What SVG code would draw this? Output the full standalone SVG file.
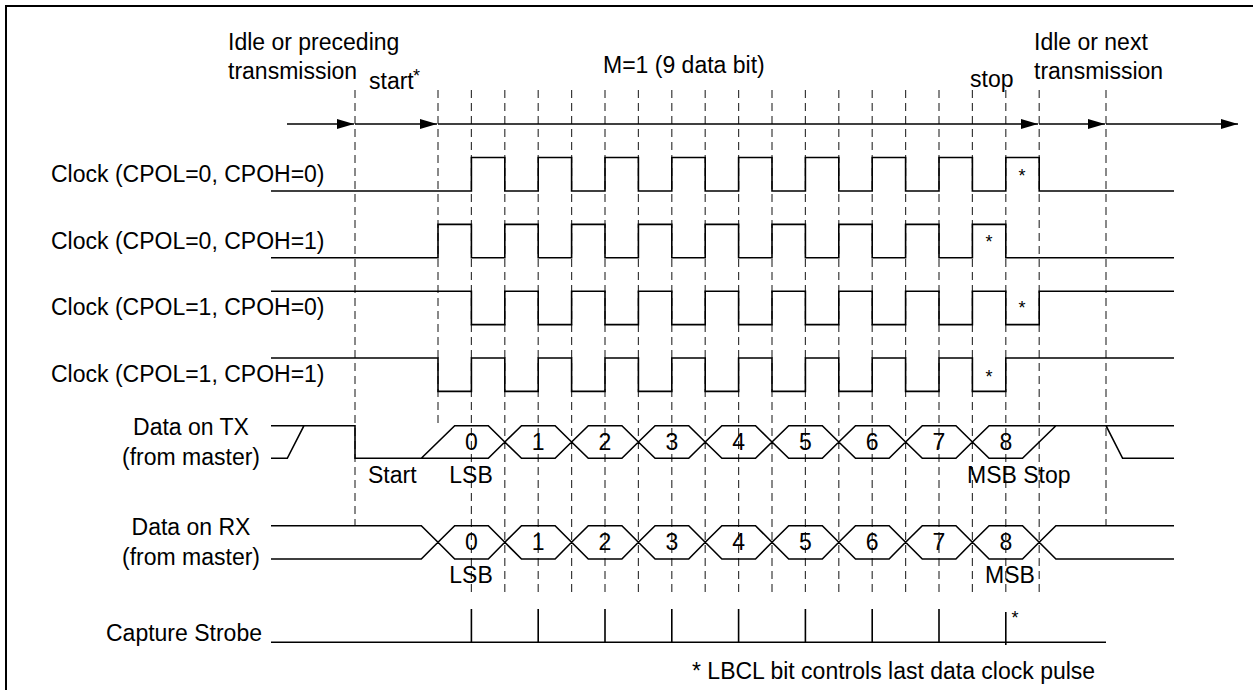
<svg xmlns="http://www.w3.org/2000/svg" width="1253" height="690" viewBox="0 0 1253 690">
<style>
text{font-family:"Liberation Sans",Arial,sans-serif;font-size:23px;fill:#000}
.sig{fill:none;stroke:#000;stroke-width:1.6;stroke-linejoin:miter}
.grid{fill:none;stroke:#3a3a3a;stroke-width:1.2;stroke-dasharray:8,5}
.arr{fill:none;stroke:#000;stroke-width:1.6}
.st{font-size:18px}
.mid{text-anchor:middle}
</style>
<defs>
<marker id="ah" markerUnits="userSpaceOnUse" markerWidth="18" markerHeight="11" refX="17" refY="5" orient="auto">
<path d="M0,0 L17,5 L0,10 z" fill="#000"/>
</marker>
</defs>
<rect width="1253" height="690" fill="#fff"/>
<path d="M6,690 V6 H1253" fill="none" stroke="#000" stroke-width="2"/>

<g id="grid">
<path class="grid" d="M355,90 V526 M438,90 V426 M1106,90 V526
M471.4,90 V593 M504.8,90 V593 M538.2,90 V593 M571.6,90 V593 M605,90 V593 M638.4,90 V593 M671.8,90 V593 M705.2,90 V593 M738.6,90 V593 M772,90 V593 M805.4,90 V593 M838.8,90 V593 M872.2,90 V593 M905.6,90 V593 M939,90 V593 M972.4,90 V593 M1005.8,90 V593 M1039.2,90 V593"/>
</g>

<g id="header">
<text x="228" y="50">Idle or preceding</text>
<text x="228" y="78.5">transmission</text>
<text x="369" y="89.3">start</text>
<text x="413" y="82" class="st">*</text>
<text x="603" y="72.7">M=1 (9 data bit)</text>
<text x="970" y="87.3">stop</text>
<text x="1034" y="50">Idle or next</text>
<text x="1034" y="78.5">transmission</text>
</g>

<g id="connectors">
<line class="arr" x1="287" y1="124" x2="354" y2="124" marker-end="url(#ah)"/>
<line class="arr" x1="355" y1="124" x2="437" y2="124" marker-end="url(#ah)"/>
<line class="arr" x1="438" y1="124" x2="1038" y2="124" marker-end="url(#ah)"/>
<line class="arr" x1="1039" y1="124" x2="1105" y2="124" marker-end="url(#ah)"/>
<line class="arr" x1="1106" y1="124" x2="1238" y2="124" marker-end="url(#ah)"/>
</g>

<g id="clock00">
<text x="51" y="181.7">Clock (CPOL=0, CPOH=0)</text>
<path class="sig" d="M271,191 H471.4 V157.5 H504.8 V191 H538.2 V157.5 H571.6 V191 H605 V157.5 H638.4 V191 H671.8 V157.5 H705.2 V191 H738.6 V157.5 H772 V191 H805.4 V157.5 H838.8 V191 H872.2 V157.5 H905.6 V191 H939 V157.5 H972.4 V191 H1005.8 V157.5 H1039.2 V191 H1174"/>
<text x="1022" y="182" class="st mid">*</text>
</g>

<g id="clock01">
<text x="51" y="248.5">Clock (CPOL=0, CPOH=1)</text>
<path class="sig" d="M271,257.8 H438 V224.4 H471.4 V257.8 H504.8 V224.4 H538.2 V257.8 H571.6 V224.4 H605 V257.8 H638.4 V224.4 H671.8 V257.8 H705.2 V224.4 H738.6 V257.8 H772 V224.4 H805.4 V257.8 H838.8 V224.4 H872.2 V257.8 H905.6 V224.4 H939 V257.8 H972.4 V224.4 H1005.8 V257.8 H1174"/>
<text x="989" y="248" class="st mid">*</text>
</g>

<g id="clock10">
<text x="51" y="315.3">Clock (CPOL=1, CPOH=0)</text>
<path class="sig" d="M271,291.2 H471.4 V324.6 H504.8 V291.2 H538.2 V324.6 H571.6 V291.2 H605 V324.6 H638.4 V291.2 H671.8 V324.6 H705.2 V291.2 H738.6 V324.6 H772 V291.2 H805.4 V324.6 H838.8 V291.2 H872.2 V324.6 H905.6 V291.2 H939 V324.6 H972.4 V291.2 H1005.8 V324.6 H1039.2 V291.2 H1174"/>
<text x="1022" y="313.5" class="st mid">*</text>
</g>

<g id="clock11">
<text x="51" y="382.1">Clock (CPOL=1, CPOH=1)</text>
<path class="sig" d="M271,358 H438 V391.4 H471.4 V358 H504.8 V391.4 H538.2 V358 H571.6 V391.4 H605 V358 H638.4 V391.4 H671.8 V358 H705.2 V391.4 H738.6 V358 H772 V391.4 H805.4 V358 H838.8 V391.4 H872.2 V358 H905.6 V391.4 H939 V358 H972.4 V391.4 H1005.8 V358 H1174"/>
<text x="989" y="383" class="st mid">*</text>
</g>

<g id="tx">
<text x="191" y="435" class="mid">Data on TX</text>
<text x="191" y="465" class="mid">(from master)</text>
<path class="sig" d="M271,425.7 H355 V458.3 H488.3 L504.8,442
M271,458.3 H287.3 L304,425.7
M421.3,458.3 L454.7,425.7 H488.3 L504.8,442
M504.8,442 L521.5,425.7 H555.1 L571.6,442 M504.8,442 L521.5,458.3 H555.1 L571.6,442
M571.6,442 L588.3,425.7 H621.9 L638.4,442 M571.6,442 L588.3,458.3 H621.9 L638.4,442
M638.4,442 L655.1,425.7 H688.7 L705.2,442 M638.4,442 L655.1,458.3 H688.7 L705.2,442
M705.2,442 L721.9,425.7 H755.5 L772,442 M705.2,442 L721.9,458.3 H755.5 L772,442
M772,442 L788.7,425.7 H822.3 L838.8,442 M772,442 L788.7,458.3 H822.3 L838.8,442
M838.8,442 L855.5,425.7 H889.1 L905.6,442 M838.8,442 L855.5,458.3 H889.1 L905.6,442
M905.6,442 L922.3,425.7 H955.9 L972.4,442 M905.6,442 L922.3,458.3 H955.9 L972.4,442
M972.4,442 L989.1,425.7 H1174
M972.4,442 L989.1,458.3 H1022.5 L1055.9,425.7
M1106,425.7 L1122.6,458.3 H1174"/>
<g class="mid">
<text x="471.4" y="450">0</text><text x="538.2" y="450">1</text><text x="605" y="450">2</text>
<text x="671.8" y="450">3</text><text x="738.6" y="450">4</text><text x="805.4" y="450">5</text>
<text x="872.2" y="450">6</text><text x="939" y="450">7</text><text x="1005.8" y="450">8</text>
</g>
<text x="368" y="482.7">Start</text>
<text x="471" y="482.7" class="mid">LSB</text>
<text x="967" y="482.5">MSB Stop</text>
</g>

<g id="rx">
<text x="191" y="535" class="mid">Data on RX</text>
<text x="191" y="565" class="mid">(from master)</text>
<path class="sig" d="M271,525.7 H421.3 L438,542.3 M271,559 H421.3 L438,542.3
M438,542.3 L454.7,525.7 H488.3 L504.8,542.3 M438,542.3 L454.7,559 H488.3 L504.8,542.3
M504.8,542.3 L521.5,525.7 H555.1 L571.6,542.3 M504.8,542.3 L521.5,559 H555.1 L571.6,542.3
M571.6,542.3 L588.3,525.7 H621.9 L638.4,542.3 M571.6,542.3 L588.3,559 H621.9 L638.4,542.3
M638.4,542.3 L655.1,525.7 H688.7 L705.2,542.3 M638.4,542.3 L655.1,559 H688.7 L705.2,542.3
M705.2,542.3 L721.9,525.7 H755.5 L772,542.3 M705.2,542.3 L721.9,559 H755.5 L772,542.3
M772,542.3 L788.7,525.7 H822.3 L838.8,542.3 M772,542.3 L788.7,559 H822.3 L838.8,542.3
M838.8,542.3 L855.5,525.7 H889.1 L905.6,542.3 M838.8,542.3 L855.5,559 H889.1 L905.6,542.3
M905.6,542.3 L922.3,525.7 H955.9 L972.4,542.3 M905.6,542.3 L922.3,559 H955.9 L972.4,542.3
M972.4,542.3 L989.1,525.7 H1022.5 L1039.2,542.3 M972.4,542.3 L989.1,559 H1022.5 L1039.2,542.3
M1039.2,542.3 L1055.9,525.7 H1174 M1039.2,542.3 L1055.9,559 H1174"/>
<g class="mid">
<text x="471.4" y="550">0</text><text x="538.2" y="550">1</text><text x="605" y="550">2</text>
<text x="671.8" y="550">3</text><text x="738.6" y="550">4</text><text x="805.4" y="550">5</text>
<text x="872.2" y="550">6</text><text x="939" y="550">7</text><text x="1005.8" y="550">8</text>
</g>
<text x="471" y="582.7" class="mid">LSB</text>
<text x="985" y="583">MSB</text>
</g>

<g id="strobe">
<text x="106" y="641">Capture Strobe</text>
<path class="sig" d="M271,642.3 H1106 M471.4,609 V642.3 M538.2,609 V642.3 M605,609 V642.3 M671.8,609 V642.3 M738.6,609 V642.3 M805.4,609 V642.3 M872.2,609 V642.3 M939,609 V642.3 M1005.8,612 V645"/>
<text x="1015" y="624" class="st mid">*</text>
</g>

<g id="note">
<text x="692" y="679">* LBCL bit controls last data clock pulse</text>
</g>
</svg>
